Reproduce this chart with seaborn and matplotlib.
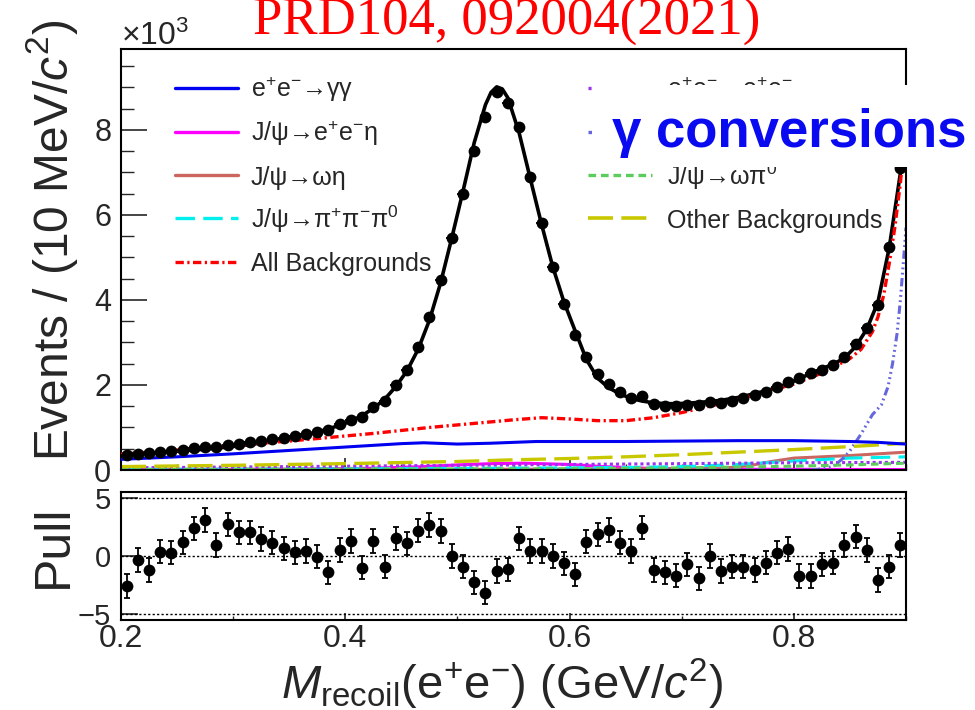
import numpy as np
import matplotlib
matplotlib.use("Agg")
import matplotlib.pyplot as plt
import seaborn as sns
from matplotlib.lines import Line2D
from matplotlib.patches import Rectangle
from matplotlib.ticker import MultipleLocator, FixedLocator

# ---------------------------------------------------------------- data
# bin centres of the 10 MeV/c^2 recoil-mass histogram (GeV/c^2)
mass = np.round(np.arange(70) * 0.01 + 0.205, 3)

# events per bin (x10^3)
events = [0.35, 0.38, 0.39, 0.42, 0.44, 0.47, 0.51, 0.53, 0.55, 0.59,
          0.62, 0.65, 0.68, 0.72, 0.76, 0.80, 0.85, 0.89, 0.95, 1.07,
          1.18, 1.25, 1.49, 1.63, 2.00, 2.36, 2.89, 3.60, 4.47, 5.46,
          6.49, 7.50, 8.30, 8.89, 8.64, 8.07, 6.89, 5.81, 4.78, 3.91,
          3.18, 2.66, 2.25, 2.03, 1.84, 1.69, 1.74, 1.55, 1.51, 1.50,
          1.53, 1.52, 1.61, 1.57, 1.63, 1.69, 1.76, 1.84, 1.96, 2.06,
          2.16, 2.27, 2.35, 2.46, 2.66, 2.96, 3.33, 3.88, 5.25, 7.10]

# pull of each bin
pull = [-2.57, -0.34, -1.20, 0.37, 0.29, 1.17, 2.37, 3.09, 0.94, 2.71,
        2.03, 2.03, 1.46, 1.14, 0.66, 0.31, 0.43, -0.06, -1.40, 0.51,
        1.29, -1.00, 1.29, -0.91, 1.51, 1.09, 2.17, 2.66, 2.14, 0.00,
        -0.91, -2.26, -3.14, -1.29, -1.14, 1.51, 0.43, 0.43, 0.00, -0.63,
        -1.57, 1.23, 1.86, 2.23, 1.14, 0.43, 2.43, -1.20, -1.40, -1.69,
        -0.71, -1.91, 0.00, -1.29, -0.91, -0.91, -1.20, -0.57, 0.29, 0.60,
        -1.71, -1.71, -0.71, -0.57, 0.94, 1.66, 0.51, -2.06, -0.91, 0.94]

# total fit curve
fit_mass = [0.200, 0.205, 0.215, 0.225, 0.235, 0.245, 0.255, 0.265, 0.275, 0.285,
            0.295, 0.305, 0.315, 0.325, 0.335, 0.345, 0.355, 0.365, 0.375, 0.385,
            0.395, 0.405, 0.415, 0.425, 0.435, 0.445, 0.455, 0.465, 0.475, 0.485,
            0.495, 0.505, 0.515, 0.525, 0.530, 0.535, 0.540, 0.545, 0.555, 0.565,
            0.575, 0.585, 0.595, 0.605, 0.615, 0.625, 0.635, 0.645, 0.655, 0.665,
            0.675, 0.685, 0.695, 0.705, 0.715, 0.725, 0.735, 0.745, 0.755, 0.765,
            0.775, 0.785, 0.795, 0.805, 0.815, 0.825, 0.835, 0.845, 0.855, 0.865,
            0.875, 0.885, 0.895, 0.900]
fit_total = [0.37, 0.38, 0.39, 0.40, 0.41, 0.43, 0.45, 0.47, 0.49, 0.51,
             0.54, 0.57, 0.60, 0.64, 0.68, 0.73, 0.78, 0.83, 0.89, 0.97,
             1.05, 1.15, 1.28, 1.45, 1.66, 1.96, 2.33, 2.84, 3.52, 4.40,
             5.46, 6.56, 7.70, 8.59, 8.88, 9.01, 8.96, 8.75, 7.93, 6.85,
             5.78, 4.78, 3.95, 3.27, 2.60, 2.16, 1.93, 1.79, 1.68, 1.62,
             1.58, 1.56, 1.56, 1.57, 1.59, 1.61, 1.64, 1.68, 1.73, 1.80,
             1.86, 1.94, 2.03, 2.15, 2.27, 2.38, 2.49, 2.63, 2.90, 3.31,
             3.95, 5.22, 6.98, 8.40]

# background components
all_bkg_x = [0.20, 0.225, 0.25, 0.275, 0.30, 0.325, 0.35, 0.375, 0.40, 0.425,
             0.45, 0.475, 0.50, 0.525, 0.55, 0.575, 0.60, 0.625, 0.65, 0.675,
             0.70, 0.725, 0.75, 0.775, 0.80, 0.825, 0.85, 0.86, 0.87, 0.875,
             0.88, 0.885, 0.89, 0.895, 0.90]
all_bkg_y = [0.37, 0.42, 0.47, 0.52, 0.57, 0.63, 0.68, 0.74, 0.80, 0.86,
             0.93, 1.00, 1.06, 1.12, 1.18, 1.23, 1.20, 1.16, 1.16, 1.23,
             1.35, 1.50, 1.66, 1.84, 2.02, 2.28, 2.62, 2.84, 3.25, 3.60,
             4.10, 4.85, 5.70, 6.75, 8.10]

gg_x = [0.20, 0.25, 0.30, 0.35, 0.40, 0.45, 0.47, 0.50, 0.53, 0.57,
        0.60, 0.65, 0.70, 0.75, 0.80, 0.85, 0.875, 0.90]
gg_y = [0.25, 0.31, 0.38, 0.46, 0.54, 0.62, 0.64, 0.61, 0.63, 0.67,
        0.67, 0.67, 0.68, 0.69, 0.69, 0.67, 0.65, 0.61]

eeeta_x = [0.20, 0.35, 0.42, 0.47, 0.50, 0.53, 0.56, 0.60, 0.63, 0.67, 0.72, 0.90]
eeeta_y = [0.01, 0.02, 0.04, 0.08, 0.12, 0.15, 0.16, 0.13, 0.08, 0.04, 0.02, 0.01]

ometa_x = [0.20, 0.40, 0.60, 0.70, 0.74, 0.76, 0.78, 0.80, 0.85, 0.90]
ometa_y = [0.01, 0.01, 0.02, 0.03, 0.05, 0.10, 0.20, 0.28, 0.34, 0.42]

pipipi_x = [0.20, 0.30, 0.40, 0.50, 0.60, 0.65, 0.70, 0.75, 0.80, 0.85, 0.90]
pipipi_y = [0.02, 0.02, 0.03, 0.04, 0.05, 0.06, 0.08, 0.13, 0.21, 0.28, 0.31]

eeee_x = [0.20, 0.30, 0.40, 0.50, 0.60, 0.70, 0.80, 0.90]
eeee_y = [0.05, 0.07, 0.09, 0.11, 0.13, 0.15, 0.17, 0.18]

conv_x = [0.20, 0.80, 0.82, 0.835, 0.845, 0.85, 0.86, 0.87, 0.878, 0.884,
          0.888, 0.892, 0.895, 0.898, 0.90]
conv_y = [0.00, 0.00, 0.01, 0.08, 0.30, 0.45, 0.85, 1.30, 1.53, 1.96,
          2.50, 3.20, 4.00, 5.00, 5.70]

ompi_x = [0.20, 0.40, 0.60, 0.70, 0.80, 0.85, 0.90]
ompi_y = [0.01, 0.02, 0.03, 0.05, 0.09, 0.12, 0.16]

other_x = [0.20, 0.30, 0.40, 0.50, 0.55, 0.60, 0.65, 0.70, 0.75, 0.80, 0.85, 0.90]
other_y = [0.08, 0.11, 0.15, 0.20, 0.24, 0.27, 0.31, 0.36, 0.42, 0.48, 0.55, 0.63]

x_ticks = [0.2, 0.4, 0.6, 0.8]
y_ticks = [0, 2, 4, 6, 8]
pull_ticks = [-5, 0, 5]

# ---------------------------------------------------------------- style
sns.set_style("ticks")
plt.rcParams["font.family"] = ["Liberation Sans", "DejaVu Sans"]
plt.rcParams["mathtext.fontset"] = "custom"
plt.rcParams["mathtext.rm"] = "Liberation Sans"
plt.rcParams["mathtext.it"] = "Liberation Sans:italic"
plt.rcParams["mathtext.bf"] = "Liberation Sans:bold"
plt.rcParams["lines.scale_dashes"] = False

W, H = 975, 710


def fx(px):
    return px / W


def fy(py):
    return 1 - py / H


fig = plt.figure(figsize=(W / 100, H / 100), dpi=100)
fig.patch.set_facecolor("white")

ax = fig.add_axes([fx(121), fy(470), (906 - 121) / W, (470 - 49) / H])
axp = fig.add_axes([fx(121), fy(620), (906 - 121) / W, (620 - 492) / H])

C_BLUE = "#0000f0"
C_MAG = "#ff00ff"
C_BROWN = "#cc6660"
C_CYAN = "#00f0f0"
C_RED = "#ff0000"
C_PURPLE = "#9933ee"
C_SLATE = "#6666dd"
C_GREEN = "#5ccc5c"
C_OLIVE = "#c8c800"

LS_CYAN = (0, (14, 6))
LS_RED = (0, (6, 2.5, 1.6, 2.5))
LS_PURPLE = (0, (2.2, 2.2))
LS_SLATE = (0, (6, 2.5, 1.3, 2.5, 1.3, 2.5, 1.3, 2.5))
LS_GREEN = (0, (5.5, 3.5))
LS_OLIVE = (0, (18, 6))

components = [
    (gg_x, gg_y, C_BLUE, "-", 2.2, 3),
    (eeeta_x, eeeta_y, C_MAG, "-", 2.2, 2),
    (ometa_x, ometa_y, C_BROWN, "-", 2.2, 2),
    (pipipi_x, pipipi_y, C_CYAN, LS_CYAN, 2.2, 2),
    (eeee_x, eeee_y, C_PURPLE, LS_PURPLE, 2.2, 2),
    (conv_x, conv_y, C_SLATE, LS_SLATE, 2.2, 2),
    (ompi_x, ompi_y, C_GREEN, LS_GREEN, 2.2, 2),
    (other_x, other_y, C_OLIVE, LS_OLIVE, 2.4, 2),
]
for xs, ys, col, ls, lw, z in components:
    sns.lineplot(x=xs, y=ys, ax=ax, color=col, linestyle=ls, lw=lw,
                 estimator=None, zorder=z)

sns.lineplot(x=fit_mass, y=fit_total, ax=ax, color="black", lw=2.6,
             estimator=None, zorder=4)
sns.lineplot(x=all_bkg_x, y=all_bkg_y, ax=ax, color=C_RED, linestyle=LS_RED,
             lw=2.4, estimator=None, zorder=5)

ev = np.asarray(events)
ev_err = np.sqrt(ev * 1000.0) / 1000.0
ax.errorbar(mass, ev, yerr=ev_err, xerr=0.005, fmt="none", ecolor="black",
            elinewidth=1.3, capsize=0, zorder=6)
sns.scatterplot(x=mass, y=ev, ax=ax, color="black", s=72, linewidth=0,
                zorder=7)

ax.set_xlim(0.2, 0.9)
ax.set_ylim(0, 9.9)
ax.set_xlabel("")
ax.set_ylabel("")
ax.xaxis.set_major_locator(FixedLocator(x_ticks))
ax.xaxis.set_minor_locator(MultipleLocator(0.05))
ax.yaxis.set_major_locator(FixedLocator(y_ticks))
ax.yaxis.set_minor_locator(MultipleLocator(0.5))
ax.tick_params(axis="x", which="major", direction="in", length=8.5, width=1.2,
               labelbottom=False, top=False)
ax.tick_params(axis="x", which="minor", direction="in", length=4.3, width=1.0,
               top=False)
ax.tick_params(axis="y", which="major", direction="in", length=18.5, width=1.2,
               labelsize=22, pad=7, right=False)
ax.tick_params(axis="y", which="minor", direction="in", length=9.3, width=1.0,
               right=False)

# ---------------------------------------------------------------- pull panel
for yv in pull_ticks:
    axp.axhline(yv, color="black", lw=1.0, ls=(0, (1.6, 1.6)), zorder=1)
axp.errorbar(mass, pull, yerr=np.ones(len(pull)), fmt="none", ecolor="black",
             elinewidth=1.3, capsize=2.4, capthick=1.3, zorder=3)
sns.scatterplot(x=mass, y=pull, ax=axp, color="black", s=72, linewidth=0,
                zorder=4)
axp.set_xlim(0.2, 0.9)
axp.set_ylim(-5.5, 5.5)
axp.set_xlabel("")
axp.set_ylabel("")
axp.xaxis.set_major_locator(FixedLocator(x_ticks))
axp.xaxis.set_minor_locator(MultipleLocator(0.1))
axp.yaxis.set_major_locator(FixedLocator(pull_ticks))
axp.tick_params(axis="x", which="major", direction="in", length=5, width=1.2,
                labelsize=23, pad=3, top=False)
axp.tick_params(axis="x", which="minor", direction="in", length=3, width=1.0,
                top=False)
axp.tick_params(axis="y", which="major", direction="in", length=12, width=1.2,
                labelsize=21, pad=7, right=False)
axp.tick_params(axis="y", which="minor", left=False, right=False)

# lift the lowest pull label a little so it clears the first mass label
for lab in axp.get_yticklabels():
    if lab.get_text().endswith("5") and lab.get_position()[1] < 0:
        lab.set_va("center_baseline")

for a in (ax, axp):
    for sp in a.spines.values():
        sp.set_visible(True)
        sp.set_linewidth(1.5)
        sp.set_color("black")
    a.set_facecolor("white")

# ---------------------------------------------------------------- texts
fig.text(fx(253), fy(35), "PRD104, 092004(2021)", color="#ff0000",
         fontsize=38, family=["Liberation Serif", "DejaVu Serif"],
         va="baseline", ha="left")
fig.text(fx(121), fy(45), r"×10$^{3}$", fontsize=23, va="baseline", ha="left")
fig.text(fx(52), fy(240), r"Events / (10 MeV/$\mathit{c}^{2}$)", rotation=90,
         fontsize=34.5, ha="center", va="center")
fig.text(fx(54), fy(546), "Pull", rotation=90, fontsize=36,
         ha="center", va="center")
fig.text(fx(502), fy(699),
         r"$\mathit{M}_{\mathrm{recoil}}$(e$^{+}$e$^{-}$) (GeV/$\mathit{c}^{2}$)",
         fontsize=34, ha="center", va="baseline")

# ---------------------------------------------------------------- legend
left_entries = [
    (r"e$^{+}$e$^{-}$→γγ", C_BLUE, "-", 2.4),
    (r"J/ψ→e$^{+}$e$^{-}$η", C_MAG, "-", 2.4),
    (r"J/ψ→ωη", C_BROWN, "-", 2.4),
    (r"J/ψ→π$^{+}$π$^{-}$π$^{0}$", C_CYAN, LS_CYAN, 2.4),
    ("All Backgrounds", C_RED, LS_RED, 2.4),
]
right_entries = [
    (r"e$^{+}$e$^{-}$→e$^{+}$e$^{-}$", C_PURPLE, LS_PURPLE, 2.4),
    ("", C_SLATE, LS_SLATE, 2.4),
    (r"J/ψ→ωπ$^{0}$", C_GREEN, LS_GREEN, 2.4),
    ("Other Backgrounds", C_OLIVE, LS_OLIVE, 2.6),
]
rows = [87.5, 131.5, 175, 218.5, 261.5]


def legend_column(entries, x0, x1, xt):
    for (label, col, ls, lw), row in zip(entries, rows):
        fig.add_artist(Line2D([fx(x0), fx(x1)], [fy(row), fy(row)],
                              transform=fig.transFigure, color=col,
                              linestyle=ls, lw=lw, zorder=5))
        if label:
            fig.text(fx(xt), fy(row + 9.5), label, fontsize=18,
                     va="baseline", ha="left", zorder=5)


legend_column(left_entries, 175, 238, 251)
legend_column(right_entries, 588, 652, 667)

# annotation box for the photon-conversion component
fig.add_artist(Rectangle((fx(592), fy(167)), (975 - 592) / W, (167 - 85) / H,
                         transform=fig.transFigure, facecolor="white",
                         edgecolor="none", zorder=10))
fig.text(fx(612), fy(147), "γ conversions", color="#0a0af0", fontsize=38,
         fontweight="bold", va="baseline", ha="left", zorder=11)

fig.savefig("out.png", dpi=100, facecolor="white")
